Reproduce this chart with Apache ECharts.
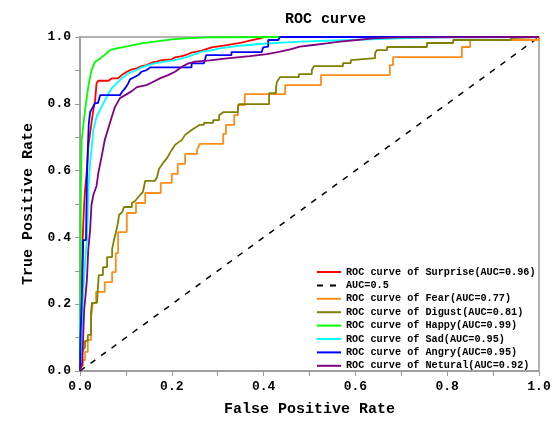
<!DOCTYPE html>
<html>
<head>
<meta charset="utf-8">
<script src="https://cdn.jsdelivr.net/npm/echarts@6/dist/echarts.min.js"></script>
<style>
html, body { margin: 0; padding: 0; background: #fff; }
#main { width: 555px; height: 422px; }
</style>
</head>
<body>
<div id="main"></div>
<script>
// ROC points, [fpr, tpr]
var surprise = [[0,0],[0.003,0.2],[0.006,0.4],[0.009,0.5],[0.011,0.542],[0.015,0.602],[0.018,0.672],[0.025,0.742],[0.029,0.781],[0.033,0.811],[0.036,0.861],[0.040,0.869],[0.062,0.869],[0.069,0.876],[0.083,0.876],[0.091,0.886],[0.102,0.896],[0.113,0.903],[0.124,0.906],[0.134,0.913],[0.145,0.916],[0.156,0.923],[0.167,0.926],[0.178,0.931],[0.2,0.933],[0.207,0.939],[0.222,0.943],[0.236,0.949],[0.243,0.953],[0.265,0.959],[0.287,0.969],[0.320,0.976],[0.352,0.983],[0.370,0.989],[0.392,0.996],[0.403,1],[1,1]];
var chance = [[0,0],[1,1]];
var fear = [[0,0],[0.002,0],[0.002,0.015],[0.0065,0.015],[0.0065,0.033],[0.011,0.033],[0.011,0.057],[0.017,0.057],[0.017,0.093],[0.024,0.093],[0.024,0.159],[0.028,0.204],[0.035,0.204],[0.035,0.237],[0.054,0.237],[0.054,0.266],[0.070,0.266],[0.070,0.296],[0.078,0.296],[0.078,0.353],[0.083,0.353],[0.083,0.416],[0.102,0.416],[0.102,0.473],[0.122,0.473],[0.122,0.503],[0.142,0.503],[0.142,0.533],[0.176,0.533],[0.176,0.563],[0.200,0.563],[0.200,0.590],[0.213,0.590],[0.213,0.620],[0.229,0.620],[0.229,0.650],[0.255,0.650],[0.255,0.662],[0.261,0.680],[0.312,0.680],[0.312,0.710],[0.318,0.710],[0.318,0.737],[0.336,0.737],[0.336,0.766],[0.344,0.766],[0.344,0.796],[0.359,0.796],[0.359,0.829],[0.447,0.829],[0.447,0.856],[0.525,0.856],[0.525,0.886],[0.675,0.886],[0.675,0.916],[0.682,0.916],[0.682,0.940],[0.832,0.940],[0.832,0.970],[0.850,0.970],[0.850,0.991],[1,0.991],[1,1]];
var digust = [[0,0],[0.002,0.048],[0.0065,0.063],[0.011,0.072],[0.011,0.090],[0.017,0.090],[0.017,0.108],[0.024,0.108],[0.024,0.177],[0.026,0.204],[0.037,0.204],[0.039,0.249],[0.041,0.287],[0.050,0.287],[0.050,0.311],[0.059,0.311],[0.059,0.341],[0.070,0.341],[0.070,0.365],[0.074,0.392],[0.078,0.413],[0.083,0.446],[0.085,0.467],[0.092,0.476],[0.096,0.491],[0.113,0.491],[0.113,0.503],[0.120,0.509],[0.131,0.527],[0.137,0.536],[0.142,0.569],[0.163,0.569],[0.168,0.581],[0.172,0.605],[0.181,0.623],[0.190,0.638],[0.196,0.653],[0.200,0.662],[0.207,0.677],[0.222,0.692],[0.229,0.707],[0.244,0.722],[0.261,0.737],[0.270,0.737],[0.270,0.743],[0.290,0.743],[0.290,0.751],[0.303,0.751],[0.303,0.766],[0.312,0.775],[0.344,0.775],[0.344,0.787],[0.346,0.799],[0.412,0.799],[0.412,0.832],[0.427,0.832],[0.427,0.847],[0.429,0.865],[0.436,0.880],[0.477,0.880],[0.477,0.889],[0.505,0.889],[0.505,0.901],[0.510,0.913],[0.573,0.913],[0.573,0.922],[0.590,0.922],[0.590,0.931],[0.643,0.937],[0.643,0.952],[0.647,0.961],[0.669,0.961],[0.669,0.970],[0.756,0.970],[0.756,0.982],[0.813,0.982],[0.813,0.991],[0.939,0.991],[0.939,0.997],[1,1]];
var happy = [[0,0],[0.001,0.3],[0.002,0.55],[0.0037,0.692],[0.011,0.781],[0.018,0.851],[0.025,0.901],[0.033,0.926],[0.044,0.936],[0.058,0.951],[0.065,0.961],[0.083,0.967],[0.105,0.973],[0.134,0.981],[0.163,0.986],[0.2,0.993],[0.229,0.996],[0.279,0.999],[0.418,1],[1,1]];
var sad = [[0,0],[0.004,0.123],[0.0065,0.222],[0.011,0.323],[0.015,0.392],[0.017,0.473],[0.018,0.542],[0.022,0.623],[0.025,0.662],[0.029,0.722],[0.036,0.761],[0.047,0.791],[0.058,0.821],[0.069,0.846],[0.080,0.861],[0.091,0.876],[0.105,0.891],[0.120,0.899],[0.134,0.909],[0.149,0.916],[0.163,0.921],[0.185,0.926],[0.207,0.931],[0.222,0.936],[0.236,0.941],[0.251,0.949],[0.265,0.956],[0.283,0.959],[0.305,0.966],[0.341,0.973],[0.392,0.979],[0.442,0.983],[0.479,0.986],[0.588,0.991],[0.697,0.996],[0.795,0.999],[1,1]];
var angry = [[0,0],[0.001,0.1],[0.005,0.26],[0.007,0.392],[0.013,0.392],[0.015,0.572],[0.017,0.662],[0.019,0.737],[0.022,0.775],[0.028,0.790],[0.033,0.802],[0.039,0.802],[0.044,0.826],[0.087,0.826],[0.092,0.836],[0.098,0.846],[0.105,0.861],[0.109,0.873],[0.120,0.881],[0.127,0.886],[0.134,0.896],[0.145,0.901],[0.153,0.909],[0.243,0.909],[0.243,0.921],[0.270,0.921],[0.272,0.931],[0.275,0.946],[0.330,0.946],[0.330,0.955],[0.396,0.955],[0.399,0.969],[0.410,0.971],[0.410,0.991],[0.432,0.991],[0.436,1],[1,1]];
var netural = [[0,0],[0.005,0.024],[0.007,0.102],[0.009,0.183],[0.011,0.21],[0.015,0.272],[0.018,0.362],[0.022,0.422],[0.025,0.497],[0.029,0.527],[0.036,0.554],[0.040,0.593],[0.047,0.641],[0.054,0.692],[0.062,0.728],[0.069,0.760],[0.076,0.790],[0.087,0.817],[0.102,0.829],[0.113,0.838],[0.124,0.850],[0.145,0.856],[0.160,0.866],[0.174,0.876],[0.192,0.886],[0.207,0.896],[0.222,0.911],[0.236,0.921],[0.251,0.926],[0.283,0.930],[0.320,0.936],[0.370,0.943],[0.407,0.949],[0.436,0.956],[0.458,0.963],[0.479,0.971],[0.508,0.976],[0.537,0.981],[0.566,0.986],[0.603,0.991],[0.639,0.996],[0.697,0.999],[1,1]];

var names = ['ROC curve of Surprise(AUC=0.96)', 'AUC=0.5', 'ROC curve of Fear(AUC=0.77)', 'ROC curve of Digust(AUC=0.81)',
    'ROC curve of Happy(AUC=0.99)', 'ROC curve of Sad(AUC=0.95)', 'ROC curve of Angry(AUC=0.95)', 'ROC curve of Netural(AUC=0.92)'];
var curves = [surprise, chance, fear, digust, happy, sad, angry, netural];
var colors = ['#ff0000', '#000000', '#ff8c1a', '#808000', '#00ff00', '#00ffff', '#0000ff', '#800080'];

var font = 'Liberation Mono';

function roc(id) {
    var myChart = echarts.init(document.getElementById(id));
    var series = [];
    for (var i = 0; i < curves.length; i++) {
        series.push({
            name: names[i],
            type: 'line',
            data: curves[i],
            symbol: 'none',
            animation: false,
            lineStyle: {
                color: colors[i],
                width: i == 1 ? 1.5 : 1.8,
                type: i == 1 ? [6, 7] : 'solid'
            },
            itemStyle: { color: colors[i] }
        });
    }
    option = {
        backgroundColor: '#fff',
        title: {
            text: 'ROC curve',
            left: 280,
            top: 7,
            textStyle: { fontFamily: font, fontSize: 15, fontWeight: 'bold', color: '#000' }
        },
        legend: {
            data: names,
            orient: 'vertical',
            left: 311,
            top: 262,
            itemWidth: 24,
            itemHeight: 10,
            itemGap: 3.4,
            itemStyle: { opacity: 0 },
            textStyle: { fontFamily: font, fontSize: 10.2, fontWeight: 'bold', color: '#000', lineHeight: 10 }
        },
        grid: {
            left: 80,
            right: 16,
            top: 37,
            bottom: 51,
            show: true,
            borderColor: '#999',
            borderWidth: 1.5
        },
        xAxis: {
            type: 'value',
            min: 0,
            max: 1,
            interval: 0.2,
            name: 'False Positive Rate',
            nameLocation: 'middle',
            nameGap: 31,
            nameTextStyle: { fontFamily: font, fontSize: 15, fontWeight: 'bold', color: '#000' },
            axisLine: { lineStyle: { color: '#999', width: 1.5 } },
            axisTick: { show: true, length: 5, lineStyle: { color: '#999' } },
            minorTick: { show: true, splitNumber: 2, length: 5, lineStyle: { color: '#999' } },
            splitLine: { show: false },
            axisLabel: {
                margin: 9,
                fontFamily: font, fontSize: 13, fontWeight: 'bold', color: '#000',
                formatter: function (v) { return v.toFixed(1); }
            }
        },
        yAxis: {
            type: 'value',
            min: 0,
            max: 1,
            interval: 0.2,
            name: 'True Positive Rate',
            nameLocation: 'middle',
            nameGap: 44,
            nameTextStyle: { fontFamily: font, fontSize: 15, fontWeight: 'bold', color: '#000' },
            axisLine: { show: true, lineStyle: { color: '#999', width: 1.5 } },
            axisTick: { show: true, length: 5, lineStyle: { color: '#999' } },
            minorTick: { show: true, splitNumber: 2, length: 5, lineStyle: { color: '#999' } },
            splitLine: { show: false },
            axisLabel: {
                margin: 9,
                fontFamily: font, fontSize: 13, fontWeight: 'bold', color: '#000',
                formatter: function (v) { return v.toFixed(1); }
            }
        },
        series: series
    };

    myChart.setOption(option);

    window.onresize = function() {
        myChart.resize();
    }
}

roc('main');
</script>
</body>
</html>
